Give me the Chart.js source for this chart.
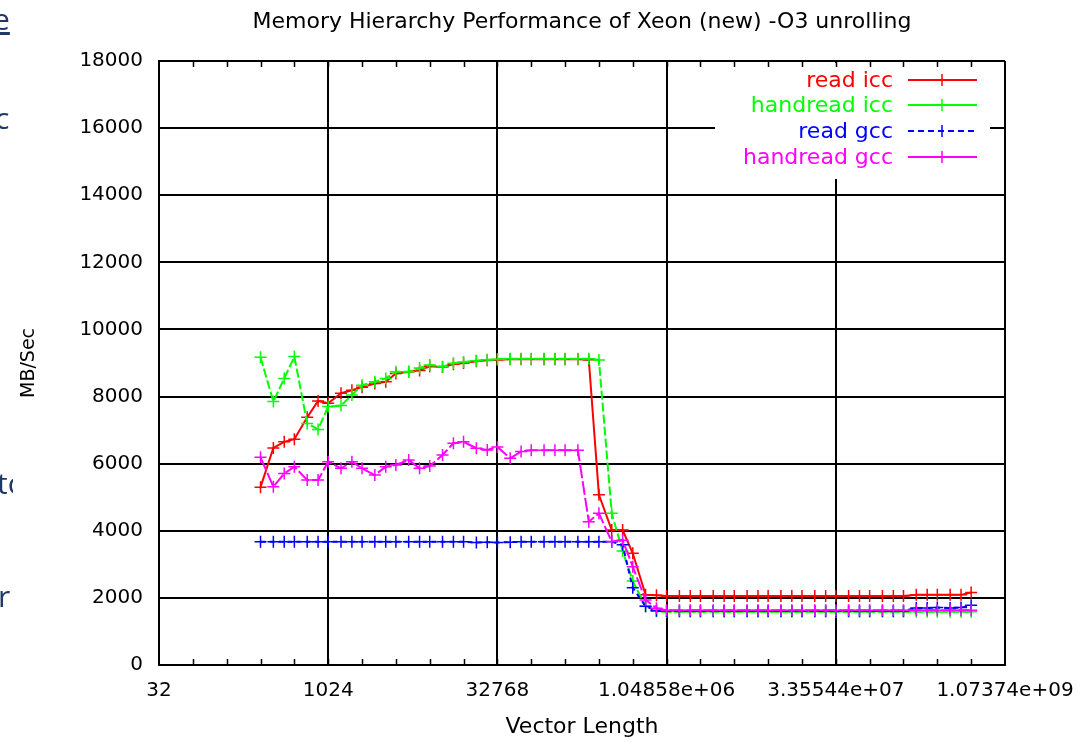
<!DOCTYPE html>
<html>
<head>
<meta charset="utf-8">
<title>Memory Hierarchy Performance of Xeon (new) -O3 unrolling</title>
<script src="https://cdn.jsdelivr.net/npm/chart.js@4/dist/chart.umd.min.js"></script>
<style>
  html, body { margin: 0; padding: 0; background: #fff; }
  #wrap { position: relative; width: 1091px; height: 743px; overflow: hidden; }
  canvas { position: absolute; left: 0; top: 0; }
  #edge { position: absolute; left: 0; top: 0; width: 13px; height: 743px; overflow: hidden; }
  .side { position: absolute; font-family: "Open Sans", sans-serif; font-size: 30px; color: #1f3864; line-height: 1; white-space: nowrap; }
</style>
</head>
<body>
<div id="wrap">
  <canvas id="c" width="1091" height="743"></canvas>
  <div id="edge">
    <div class="side" style="left:-7px; top:4px; text-decoration: underline;">e</div>
    <div class="side" style="left:-5px; top:103px;">c</div>
    <div class="side" style="left:-3px; top:468px;">tc</div>
    <div class="side" style="left:-2px; top:581px;">r</div>
  </div>
</div>
<script>
// Vector lengths (three sample sizes per power of two, 2^8 .. 2^29)
const vectorLength = [
  256, 333, 416, 512, 666, 832, 1024, 1331, 1664, 2048, 2662, 3328,
  4096, 5325, 6656, 8192, 10650, 13312, 16384, 21299, 26624, 32768, 42598, 53248,
  65536, 85197, 106496, 131072, 170394, 212992, 262144, 340787, 425984, 524288, 681574, 851968,
  1048576, 1363149, 1703936, 2097152, 2726298, 3407872, 4194304, 5452595, 6815744, 8388608, 10905190, 13631488,
  16777216, 21810381, 27262976, 33554432, 43620762, 54525952, 67108864, 87241523, 109051904, 134217728, 174483046, 218103808,
  268435456, 348966093, 436207616, 536870912
];

// MB/Sec
const readIcc = [
  5300, 6470, 6650, 6730, 7380, 7870, 7800, 8100, 8190, 8280, 8390, 8440,
  8690, 8740, 8780, 8900, 8880, 8960, 9000, 9050, 9080, 9100, 9110, 9110,
  9110, 9110, 9110, 9110, 9110, 9100, 5070, 4020, 4020, 3330, 2090, 2080,
  2060, 2060, 2060, 2060, 2060, 2060, 2060, 2060, 2060, 2060, 2060, 2060,
  2060, 2060, 2060, 2060, 2060, 2060, 2060, 2060, 2060, 2060, 2090, 2090,
  2090, 2090, 2090, 2160
];
const handreadIcc = [
  9170, 7850, 8540, 9190, 7200, 7020, 7700, 7730, 8050, 8340, 8440, 8540,
  8740, 8740, 8850, 8940, 8890, 8990, 9030, 9070, 9100, 9110, 9130, 9130,
  9130, 9130, 9130, 9130, 9130, 9130, 9090, 4520, 3400, 2500, 1750, 1600,
  1590, 1590, 1590, 1590, 1590, 1590, 1590, 1590, 1590, 1590, 1590, 1590,
  1590, 1590, 1590, 1590, 1590, 1590, 1590, 1590, 1590, 1590, 1590, 1590,
  1590, 1590, 1590, 1590
];
const readGcc = [
  3670, 3670, 3670, 3670, 3670, 3670, 3670, 3670, 3670, 3670, 3670, 3670,
  3670, 3670, 3670, 3670, 3670, 3670, 3670, 3650, 3660, 3650, 3660, 3670,
  3670, 3670, 3670, 3670, 3670, 3670, 3670, 3670, 3580, 2300, 1750, 1620,
  1610, 1610, 1610, 1610, 1610, 1610, 1610, 1610, 1610, 1610, 1610, 1610,
  1610, 1610, 1610, 1610, 1610, 1610, 1610, 1610, 1610, 1610, 1700, 1700,
  1710, 1700, 1710, 1780
];
const handreadGcc = [
  6190, 5310, 5710, 5910, 5510, 5510, 6060, 5860, 6060, 5860, 5660, 5910,
  5960, 6110, 5860, 5930, 6260, 6610, 6650, 6460, 6410, 6500, 6160, 6360,
  6400, 6400, 6400, 6400, 6400, 4270, 4520, 3680, 3720, 2930, 1940, 1690,
  1630, 1630, 1630, 1630, 1630, 1630, 1630, 1630, 1630, 1630, 1630, 1630,
  1630, 1630, 1630, 1630, 1630, 1630, 1630, 1630, 1630, 1630, 1630, 1630,
  1630, 1630, 1630, 1630
];

const seriesNames = ['read icc', 'handread icc', 'read gcc', 'handread gcc'];
const seriesValues = [readIcc, handreadIcc, readGcc, handreadGcc];
const seriesColors = ['#ff0000', '#00ff00', '#0000ff', '#ff00ff'];
const seriesDash = [[], [9, 3], [5, 4], [14, 3]];

const xTickValues = [32, 1024, 32768, 1048576, 33554432, 1073741824];
const xTickLabels = ['32', '1024', '32768', '1.04858e+06', '3.35544e+07', '1.07374e+09'];
const yTickStep = 2000;

const chartTitle = 'Memory Hierarchy Performance of Xeon (new) -O3 unrolling';
const FONT = '"DejaVu Sans", sans-serif';

// Title centred over the plot frame
const frameTitle = {
  id: 'frameTitle',
  afterDraw(chart) {
    const { ctx, chartArea: a } = chart;
    ctx.save();
    ctx.font = '22px ' + FONT;
    ctx.fillStyle = '#000';
    ctx.textAlign = 'center';
    ctx.textBaseline = 'middle';
    ctx.fillText(chartTitle, (a.left + a.right) / 2, 22);
    ctx.restore();
  }
};

// Key box and inward tick marks at every power of two along the top and bottom frame
const frameTicks = {
  id: 'frameTicks',
  afterDatasetsDraw(chart) {
    const { ctx, chartArea: a, scales: { x } } = chart;
    ctx.save();
    ctx.fillStyle = '#fff';
    ctx.fillRect(715, a.top + 2, 275, 116);
    ctx.strokeStyle = '#000';
    ctx.lineWidth = 1.5;
    for (let e = 6; e < 30; e++) {
      const px = Math.round(x.getPixelForValue(Math.pow(2, e))) + 0.5;
      ctx.beginPath();
      ctx.moveTo(px, a.bottom); ctx.lineTo(px, a.bottom - 6);
      ctx.moveTo(px, a.top); ctx.lineTo(px, a.top + 6);
      ctx.stroke();
    }
    ctx.font = '22px ' + FONT;
    ctx.textAlign = 'right';
    ctx.textBaseline = 'middle';
    const rows = [80, 105, 131, 157];
    seriesNames.forEach((name, i) => {
      const y = rows[i];
      ctx.fillStyle = seriesColors[i];
      ctx.fillText(name, 893, y + 1);
      ctx.strokeStyle = seriesColors[i];
      ctx.lineWidth = 2;
      ctx.setLineDash(i === 2 ? [6, 4] : []);
      ctx.beginPath(); ctx.moveTo(908, y); ctx.lineTo(977, y); ctx.stroke();
      ctx.setLineDash([]);
      ctx.lineWidth = 1.5;
      ctx.beginPath();
      ctx.moveTo(942, y - 6); ctx.lineTo(942, y + 6);
      ctx.stroke();
    });
    ctx.restore();
  }
};

const datasets = seriesNames.map((name, i) => ({
  label: name,
  data: vectorLength.map((v, k) => ({ x: v, y: seriesValues[i][k] })),
  borderColor: seriesColors[i],
  backgroundColor: seriesColors[i],
  borderWidth: 2,
  borderDash: seriesDash[i],
  pointStyle: 'cross',
  pointRadius: 6,
  pointBorderWidth: 1.5,
  pointBorderColor: seriesColors[i],
  tension: 0,
  fill: false,
  order: 4 - i
}));

new Chart(document.getElementById('c'), {
  type: 'line',
  data: { datasets },
  options: {
    responsive: false,
    animation: false,
    events: [],
    layout: { padding: { left: 0, right: 86, top: 61, bottom: 0 } },
    plugins: {
      legend: { display: false },
      tooltip: { enabled: false },
      title: { display: false }
    },
    scales: {
      x: {
        type: 'logarithmic',
        min: 32,
        max: 1073741824,
        afterBuildTicks: (s) => { s.ticks = xTickValues.map(v => ({ value: v })); },
        afterFit: (s) => { s.height = 78; },
        ticks: {
          autoSkip: false,
          maxRotation: 0,
          color: '#000',
          padding: 14,
          font: { family: FONT, size: 20 },
          callback: (v, i) => xTickLabels[i]
        },
        grid: { color: '#000', lineWidth: 2, drawTicks: false },
        border: { color: '#000', width: 2 },
        title: {
          display: true,
          text: 'Vector Length',
          color: '#000',
          font: { family: FONT, size: 22, lineHeight: 1.2 },
          padding: { top: 0, bottom: 3 }
        }
      },
      y: {
        min: 0,
        max: 18000,
        afterFit: (s) => { s.width = 159; },
        ticks: {
          stepSize: yTickStep,
          color: '#000',
          padding: 16,
          font: { family: FONT, size: 20 },
          callback: (v) => String(v)
        },
        grid: { color: '#000', lineWidth: 2, drawTicks: false },
        border: { color: '#000', width: 2 },
        title: {
          display: true,
          text: 'MB/Sec',
          color: '#000',
          font: { family: FONT, size: 19, lineHeight: 1.2 },
          padding: { top: 18, bottom: 0 }
        }
      }
    }
  },
  plugins: [frameTicks, frameTitle]
});
</script>
</body>
</html>
